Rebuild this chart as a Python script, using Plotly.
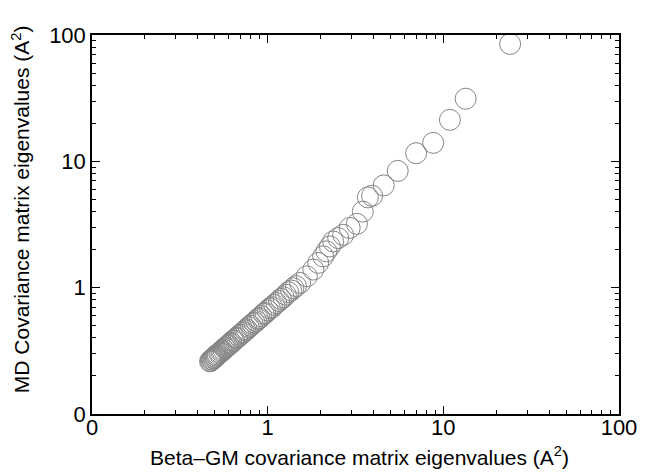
import plotly.graph_objects as go

# Eigenvalues (A^2), sorted descending
beta_gm = [24.0, 13.4, 10.9, 8.75, 7.0, 5.5, 4.58, 3.93, 3.72, 3.48, 3.22, 2.93, 2.69, 2.52,
           2.36, 2.26, 2.16, 2.07, 1.94, 1.82, 1.67, 1.53,
           1.45, 1.40, 1.36, 1.31, 1.27, 1.23, 1.19, 1.16, 1.12, 1.09, 1.06, 1.03, 1.00,
           0.97, 0.95, 0.92, 0.90, 0.88, 0.86, 0.84, 0.82, 0.80, 0.78, 0.76, 0.745, 0.73,
           0.715, 0.70, 0.685, 0.67, 0.66, 0.645, 0.635, 0.62, 0.61, 0.60, 0.59, 0.58,
           0.57, 0.56, 0.55, 0.545, 0.535, 0.53, 0.52, 0.515, 0.51, 0.505, 0.50, 0.495,
           0.49, 0.485, 0.48, 0.475, 0.47]
md = [85.0, 31.3, 21.3, 14.0, 11.6, 8.4, 6.45, 5.34, 5.18, 4.0, 3.2, 2.97, 2.62, 2.47,
      2.32, 2.12, 1.94, 1.77, 1.57, 1.39, 1.23, 1.09,
      1.03, 0.99, 0.95, 0.92, 0.88, 0.84, 0.815, 0.785, 0.755, 0.73, 0.70, 0.685, 0.66,
      0.63, 0.62, 0.595, 0.575, 0.565, 0.545, 0.53, 0.518, 0.50, 0.487, 0.468, 0.46, 0.445,
      0.437, 0.424, 0.415, 0.402, 0.396, 0.384, 0.379, 0.366, 0.36, 0.351, 0.346, 0.337,
      0.332, 0.323, 0.318, 0.312, 0.307, 0.302, 0.297, 0.291, 0.29, 0.284, 0.283, 0.278,
      0.276, 0.271, 0.269, 0.264, 0.261]

tick_vals = [0.1, 1, 10, 100]
tick_text = ["0", "1", "10", "100"]
minor_vals = [0.2, 0.3, 0.4, 0.5, 0.6, 0.7, 0.8, 0.9,
              2, 3, 4, 5, 6, 7, 8, 9,
              20, 30, 40, 50, 60, 70, 80, 90]

x_title = "Beta\u2013GM covariance matrix eigenvalues (A<sup>2</sup>)"
y_title = "MD Covariance matrix eigenvalues (A<sup>2</sup>)"

fig = go.Figure(go.Scatter(
    x=beta_gm, y=md, mode="markers",
    marker=dict(symbol="circle-open", size=21, color="#858585", line=dict(width=1, color="#858585")),
))

font_family = "Liberation Sans, Arial, Helvetica, sans-serif"
axis_common = dict(
    type="log", range=[-1, 2],
    showline=True, linecolor="black", linewidth=1.5, mirror="ticks",
    ticks="inside", ticklen=8, tickwidth=1, tickcolor="black",
    tickmode="array", tickvals=tick_vals, ticktext=tick_text,
    minor=dict(ticks="inside", ticklen=4, tickwidth=1, tickcolor="black",
               tickmode="array", tickvals=minor_vals, showgrid=False),
    showgrid=False, zeroline=False,
    tickfont=dict(family=font_family, size=22, color="black"),
)

fig.update_layout(
    width=649, height=473,
    margin=dict(l=92, r=22, t=35, b=59),
    plot_bgcolor="white", paper_bgcolor="white",
    showlegend=False,
    font=dict(family=font_family, color="black"),
    xaxis=dict(**axis_common, ticklabelstandoff=-7),
    yaxis=dict(**axis_common),
    annotations=[
        dict(text=x_title, xref="paper", yref="paper", x=0.507, y=-0.112,
             xanchor="center", yanchor="middle", showarrow=False,
             font=dict(family=font_family, size=21, color="black")),
        dict(text=y_title, xref="paper", yref="paper", x=-0.135, y=0.54,
             xanchor="center", yanchor="middle", showarrow=False, textangle=-90,
             font=dict(family=font_family, size=21, color="black")),
    ],
)

fig.write_html("out.html")
